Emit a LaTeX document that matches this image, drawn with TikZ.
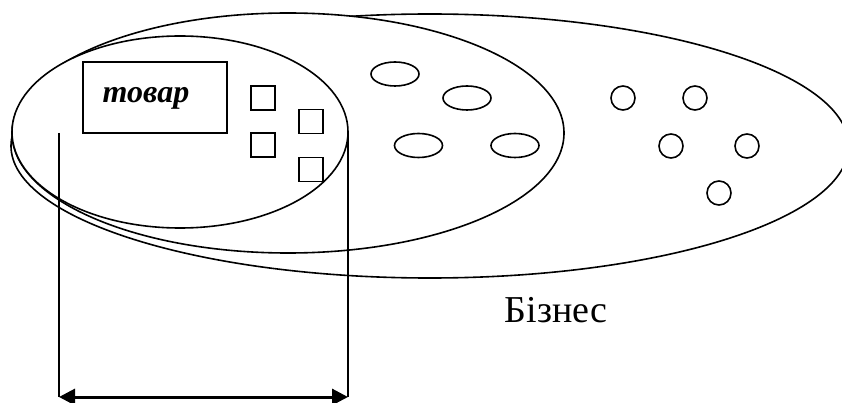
\documentclass[tikz,border=0pt]{standalone}
\usepackage{fontspec}
\setmainfont{Liberation Serif}
\usetikzlibrary{shapes.geometric,arrows.meta}

\tikzset{
  outline/.style={draw=black, line width=1.6pt, inner sep=0pt, outer sep=0pt},
  oval/.style={outline, ellipse},
  area/.style={oval, fill=white},
  cell/.style={outline, rectangle, minimum width=24pt, minimum height=24pt},
  dot/.style={outline, circle, minimum size=24pt},
  bean/.style={oval, minimum width=48pt, minimum height=24pt},
  guide/.style={draw=black, line width=1.6pt},
  span/.style={draw=black, line width=3pt,
    {Triangle[length=16pt,width=16pt]}-{Triangle[length=16pt,width=16pt]}},
}

\begin{document}
\begin{tikzpicture}[x=1pt, y=-1pt]
  \useasboundingbox (0,0) rectangle (842,403);
  \clip (0,0) rectangle (842,403);

  % three nested areas, each one filled so that it covers the one below
  \node[area, minimum width=837.6pt, minimum height=264pt] (business) at (429.8,146) {};
  \node[area, minimum width=552pt, minimum height=240pt] (market)   at (288,133) {};
  \node[area, minimum width=336pt, minimum height=192pt] (product)  at (180,132) {};

  % goods box
  \node[outline, line width=2pt, rectangle, minimum width=144pt, minimum height=71pt] (goodsbox) at (155,97.5) {};
  \node[anchor=base, inner sep=0pt, font=\fontsize{32}{34}\selectfont\bfseries\itshape] (goods) at (146,103) {товар};

  % small squares
  \node[cell] (s1) at (263,98) {};
  \node[cell] (s2) at (311,121.5) {};
  \node[cell] (s3) at (263,145) {};
  \node[cell] (s4) at (311,169.5) {};

  % ovals
  \node[bean] (o1) at (395,74) {};
  \node[bean] (o2) at (467,98) {};
  \node[bean] (o3) at (418.5,145.5) {};
  \node[bean] (o4) at (515,145.5) {};

  % circles
  \node[dot] (c1) at (623,98) {};
  \node[dot] (c2) at (695,98) {};
  \node[dot] (c3) at (671,146) {};
  \node[dot] (c4) at (747,146) {};
  \node[dot] (c5) at (719,193) {};

  % label
  \node[anchor=base, inner sep=0pt, font=\fontsize{38}{40}\selectfont] (bizlabel) at (556,322) {Бізнес};

  % width of the product area
  \coordinate (lefttop) at (59,133);
  \coordinate (leftbot) at (59,397);
  \coordinate (rightbot) at (product.east |- leftbot);
  \draw[guide] (lefttop) -- (leftbot);
  \draw[guide] (product.east) -- (rightbot);
  \draw[span] (leftbot) -- (rightbot);
\end{tikzpicture}
\end{document}
